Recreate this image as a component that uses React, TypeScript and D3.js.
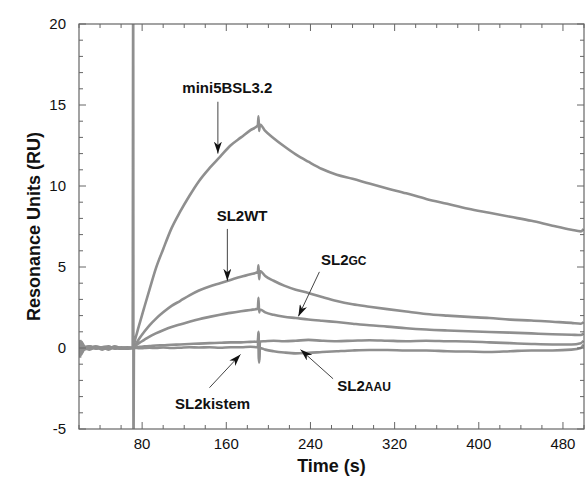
import React from "react";
import * as d3 from "d3";

// sensorgram sample times (s)
const times = [
  21, 22, 25, 30, 36, 42, 48, 54, 60, 66, 71, 71.5, 71.8, 72.2, 75, 78, 82, 87,
  93, 100, 108, 116, 125, 134, 144, 154, 164, 174, 183, 190, 190.6, 191.2, 192,
  197, 205, 215, 226, 238, 251, 265, 280, 296, 313, 331, 350, 370, 390, 410,
  430, 450, 470, 488, 497, 499.5,
];

// response (RU), one value per time
const mini5BSL32 = [
  -0.6, 0.4, 0.1, -0.05, 0.05, -0.1, 0.05, 0.0, -0.05, 0.0, 0.0, 22, -7, 0.1,
  0.9, 1.6, 2.5, 3.6, 4.9, 6.1, 7.4, 8.4, 9.4, 10.3, 11.1, 11.8, 12.5, 13.0,
  13.45, 13.75, 14.3, 13.4, 13.8, 13.4, 12.95, 12.45, 11.95, 11.5, 11.05, 10.7,
  10.45, 10.15, 9.85, 9.55, 9.2, 8.9, 8.6, 8.35, 8.1, 7.85, 7.55, 7.3, 7.2, 7.35,
];
const sl2WT = [
  0.3, -0.2, 0.05, 0.1, -0.05, 0.05, -0.1, 0.05, 0.0, -0.05, 0.0, 0, 0, 0.05,
  0.35, 0.65, 1.0, 1.4, 1.8, 2.2, 2.6, 2.9, 3.25, 3.55, 3.8, 4.0, 4.2, 4.4,
  4.55, 4.7, 5.1, 4.25, 4.75, 4.45, 4.15, 3.85, 3.6, 3.4, 3.15, 2.9, 2.7, 2.55,
  2.4, 2.25, 2.1, 2.0, 1.92, 1.85, 1.75, 1.7, 1.62, 1.55, 1.5, 1.6,
];
const sl2GC = [
  0.5, -0.3, -0.1, 0.0, 0.1, 0.0, -0.05, 0.1, 0.0, 0.05, 0.0, 0, 0, 0.05,
  0.2, 0.35, 0.5, 0.7, 0.9, 1.1, 1.3, 1.45, 1.62, 1.78, 1.92, 2.05, 2.17, 2.27,
  2.35, 2.42, 3.1, 2.2, 2.38, 2.2, 2.05, 1.93, 1.85, 1.76, 1.68, 1.6, 1.5, 1.4,
  1.32, 1.22, 1.14, 1.08, 1.03, 0.99, 0.95, 0.9, 0.85, 0.82, 0.8, 0.9,
];
const sl2AAU = [
  -0.3, 0.2, -0.05, 0.1, 0.0, 0.05, 0.1, -0.05, 0.05, 0.0, 0.0, 0, 0, 0.0,
  0.05, 0.08, 0.1, 0.12, 0.15, 0.17, 0.2, 0.22, 0.25, 0.27, 0.3, 0.32, 0.35,
  0.35, 0.38, 0.4, 1.0, -0.8, 0.4, 0.42, 0.45, 0.42, 0.45, 0.5, 0.45, 0.42,
  0.45, 0.48, 0.45, 0.42, 0.45, 0.42, 0.4, 0.35, 0.3, 0.25, 0.22, 0.22, 0.3, 0.45,
];
const sl2kistem = [
  0.2, -0.4, 0.0, -0.1, 0.05, -0.05, 0.0, 0.05, -0.05, 0.0, 0.0, 0, 0, 0.0,
  0.0, -0.02, 0.0, 0.02, 0.0, 0.03, 0.0, 0.02, 0.05, 0.03, 0.05, 0.02, 0.05,
  0.05, 0.08, 0.05, 0.9, -0.9, 0.0, -0.1, -0.2, -0.28, -0.33, -0.3, -0.25,
  -0.2, -0.15, -0.12, -0.12, -0.15, -0.15, -0.2, -0.22, -0.25, -0.2, -0.15,
  -0.15, -0.1, 0.0, 0.2,
];

const allSeries = [mini5BSL32, sl2WT, sl2GC, sl2AAU, sl2kistem];

const xTickValues = [80, 160, 240, 320, 400, 480];
const yTickValues = [-5, 0, 5, 10, 15, 20];

// label text, label anchor (time, RU), arrow from/to (time, RU)
const annotations = [
  { main: "mini5BSL3.2", small: "", at: [161, 15.75], anchor: "middle", from: [152, 15.2], to: [152, 12.0] },
  { main: "SL2WT", small: "", at: [175, 7.85], anchor: "middle", from: [161, 7.35], to: [161, 4.15] },
  { main: "SL2", small: "GC", at: [250, 5.1], anchor: "start", from: [248.5, 4.7], to: [228.5, 1.95] },
  { main: "SL2", small: "AAU", at: [265.5, -2.65], anchor: "start", from: [261.5, -1.9], to: [230.5, -0.1] },
  { main: "SL2kistem", small: "", at: [147, -3.75], anchor: "middle", from: [144, -2.45], to: [173.5, -0.4] },
];

export default function App() {
  const width = 587;
  const height = 480;
  const left = 79;
  const right = 584;
  const top = 24;
  const bottom = 429;

  const x = d3.scaleLinear().domain([20, 500]).range([left, right]);
  const y = d3.scaleLinear().domain([-5, 20]).range([bottom, top]);

  const line = d3
    .line<number>()
    .x((_, i) => x(times[i]))
    .y((d) => y(d))
    .curve(d3.curveMonotoneX);

  const xMinor = d3.range(20, 501, 20).filter((t) => t % 80 !== 0);
  const yMinor = d3.range(-5, 21, 1).filter((v) => v % 5 !== 0);

  const frame = "#666";
  const curve = "#8f8f8f";

  return (
    <svg
      width={width}
      height={height}
      style={{ position: "absolute", left: 0, top: 0, background: "#fff" }}
      fontFamily="'Liberation Sans', Arial, Helvetica, sans-serif"
    >
      <defs>
        <clipPath id="plot">
          <rect x={left} y={top} width={right - left} height={bottom - top} />
        </clipPath>
        <marker
          id="head"
          viewBox="0 0 12 8"
          refX={12}
          refY={4}
          markerWidth={12}
          markerHeight={8}
          markerUnits="userSpaceOnUse"
          orient="auto"
        >
          <path d="M0,0 L12,4 L0,8 L3.5,4 Z" fill="#111" />
        </marker>
      </defs>

      {/* curves */}
      <g clipPath="url(#plot)" fill="none" stroke={curve} strokeWidth={2.6} strokeLinejoin="round">
        {allSeries.map((s, i) => (
          <path key={i} d={line(s) || ""} />
        ))}
      </g>

      {/* frame */}
      <rect x={left} y={top} width={right - left} height={bottom - top} fill="none" stroke={frame} strokeWidth={1.2} />

      {/* ticks on all four sides, inward */}
      <g stroke={frame} strokeWidth={1}>
        {xTickValues.map((t) => (
          <g key={"xM" + t}>
            <line x1={x(t)} x2={x(t)} y1={bottom} y2={bottom - 7} />
            <line x1={x(t)} x2={x(t)} y1={top} y2={top + 7} />
          </g>
        ))}
        {xMinor.map((t) => (
          <g key={"xm" + t}>
            <line x1={x(t)} x2={x(t)} y1={bottom} y2={bottom - 4} />
            <line x1={x(t)} x2={x(t)} y1={top} y2={top + 4} />
          </g>
        ))}
        {yTickValues.map((v) => (
          <g key={"yM" + v}>
            <line x1={left} x2={left + 7} y1={y(v)} y2={y(v)} />
            <line x1={right} x2={right - 7} y1={y(v)} y2={y(v)} />
          </g>
        ))}
        {yMinor.map((v) => (
          <g key={"ym" + v}>
            <line x1={left} x2={left + 4} y1={y(v)} y2={y(v)} />
            <line x1={right} x2={right - 4} y1={y(v)} y2={y(v)} />
          </g>
        ))}
      </g>

      {/* tick labels */}
      <g fontSize={15} fill="#111">
        {xTickValues.map((t) => (
          <text key={"xl" + t} x={x(t)} y={bottom + 20} textAnchor="middle">
            {t}
          </text>
        ))}
        {yTickValues.map((v) => (
          <text key={"yl" + v} x={left - 13} y={y(v)} dy="0.35em" textAnchor="end">
            {v}
          </text>
        ))}
      </g>

      {/* axis titles */}
      <text x={(left + right) / 2} y={472} textAnchor="middle" fontSize={18} fontWeight="bold" fill="#111">
        Time (s)
      </text>
      <text
        transform={`translate(40, ${(top + bottom) / 2}) rotate(-90)`}
        textAnchor="middle"
        fontSize={18}
        fontWeight="bold"
        fill="#111"
      >
        Resonance Units (RU)
      </text>

      {/* annotations */}
      <g>
        {annotations.map((a, i) => (
          <g key={i}>
            <line
              x1={x(a.from[0])}
              y1={y(a.from[1])}
              x2={x(a.to[0])}
              y2={y(a.to[1])}
              stroke="#444"
              strokeWidth={1}
              markerEnd="url(#head)"
            />
            <text
              x={x(a.at[0])}
              y={y(a.at[1])}
              textAnchor={a.anchor}
              fontSize={15}
              fontWeight="bold"
              fill="#111"
            >
              {a.main}
              {a.small && <tspan fontSize={12}>{a.small}</tspan>}
            </text>
          </g>
        ))}
      </g>
    </svg>
  );
}
